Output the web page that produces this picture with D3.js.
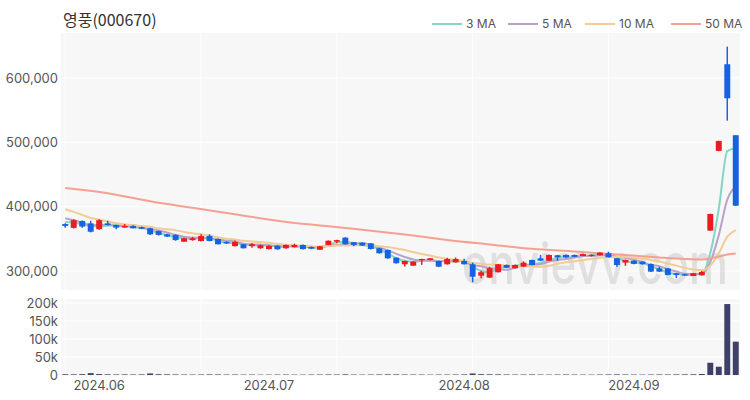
<!DOCTYPE html>
<html>
<head>
<meta charset="utf-8">
<script src="https://cdn.jsdelivr.net/npm/d3@7"></script>
<style>
  body { margin: 0; background: #fff; }
  text { font-family: Inter, "Noto Sans", "Noto Sans CJK KR", sans-serif; }
</style>
</head>
<body>
<script>
// price data, in won (80 trading days)
var opens = [373000,367000,377800,374000,365000,374000,371500,367500,370000,368000,
  366400,362000,357000,356000,345500,348000,346600,354400,349800,345500,
  338600,341500,338600,335300,334000,339400,335300,337000,340400,337300,
  333000,340400,345500,351800,344600,344000,343000,335300,332600,320700,
  310400,308200,316600,317100,315500,310400,313500,315500,310400,292700,
  289600,298000,309300,304200,306700,317100,319700,316000,324400,324900,
  324900,323300,323300,324400,327500,319700,313000,316000,314500,310900,
  304000,304000,296400,295000,292200,293300,362700,486600,621400,511000];
var closes = [370000,379000,369000,361000,379000,371500,367500,370000,366500,365500,
  357000,356000,353500,348000,350800,350800,354400,346600,341500,343000,
  345000,335300,341500,340000,339000,333700,340400,340400,334000,334700,
  338400,347000,348000,341500,340400,339400,334200,327500,319700,312000,
  315500,314500,318600,319700,306700,318600,318600,310400,291100,298000,
  304200,310400,305100,309300,312900,309300,316000,324900,321300,321000,
  322000,326400,325000,328500,321300,309300,317100,311000,310400,299000,
  299000,293800,293800,293000,296400,298400,388600,502200,568500,401500];
var highs = [374000,380500,378500,378000,380500,378000,372000,373000,371000,369000,
  367000,363000,358000,357000,351500,353000,357000,357000,350500,346000,
  347500,342000,343500,341000,340000,340000,341000,342500,341000,338000,
  339000,347500,348500,352500,345000,344500,343500,336000,333000,321000,
  316000,315000,319000,320000,316000,320500,321000,319000,313000,300500,
  306600,311000,310000,310000,315000,317500,325000,325500,325000,325500,
  325500,327000,326000,329000,330000,320000,317500,316500,315000,311500,
  306600,304500,297000,295500,297000,300000,389000,502500,648800,511500];
var lows = [367000,366000,367000,360000,364000,370500,365000,367000,366000,365000,
  356000,355000,353000,347000,345000,347000,346000,346000,341000,342000,
  338000,335000,336000,334500,333500,333000,334500,336500,333500,334000,
  332500,340000,343000,341000,338500,339000,333500,327000,319000,311500,
  307000,308000,309500,316500,306000,310000,313000,310000,282400,288500,
  289000,297500,304500,303500,306000,309000,315500,315500,316000,320500,
  321500,323000,322500,324000,321000,306500,308000,310500,310000,298500,
  298500,293500,289000,292500,292000,293000,362500,486000,533700,401000];
var volumes = [2100,1800,2300,5200,2600,1900,1500,1700,1400,1600,
  4300,2200,1800,1500,1300,1200,1400,1600,1500,1200,
  1300,1100,1200,1000,1100,1200,1300,1100,1000,1200,
  1300,1500,1400,1800,1200,1100,1300,1500,1700,1600,
  1400,1300,1200,1100,1300,1200,1400,1600,4200,2200,
  1900,1700,1400,1200,1300,1500,1200,1100,1300,1400,
  1200,1100,1000,1300,1500,1700,1400,1200,1100,1300,
  1500,1400,1600,1700,1900,2800,34000,23000,197000,92500];
// closes before the window, estimated from where the short averages start
var priorCloses = [420000,415000,410000,405000,400000,395000,387000,382000,376000];
// 50 MA at these candle indices
var ma50Idx = [0,5,10,15,20,27,30,35,40,45,50,55,60,65,70,73,75,76,77,78,79];
var ma50Val = [429100,421000,408400,398300,388200,374600,370800,364200,356800,348200,
  341200,334500,330300,325700,321000,318700,317900,319400,322500,325700,327200];

var tickIdx = [4, 24, 47, 67];
var tickLabels = ["2024.06", "2024.07", "2024.08", "2024.09"];
var gridIdx = [0, 16, 32, 48, 64];
var priceTicks = [300000, 400000, 500000, 600000];
var volTicks = [0, 50000, 100000, 150000, 200000];
var maNames = ["3 MA", "5 MA", "10 MA", "50 MA"];
var maColors = ["#85d5c5", "#b9a3c9", "#f3cb95", "#f5a192"];

window.onload = function() {
    var w = 750, h = 400;
    var left = 61, right = 740;
    var pTop = 33, pBot = 290, vTop = 299, vBot = 376;

    var svg = d3.select("body").append("svg")
        .attr("width", w)
        .attr("height", h);

    var x = d3.scaleBand()
        .domain(d3.range(closes.length))
        .range([left, right])
        .paddingInner(0.3)
        .paddingOuter(0.15);
    var cx = function(i) { return x(i) + x.bandwidth() / 2; };

    var y = d3.scaleLinear().domain([270400, 670000]).range([pBot, pTop]);
    var yv = d3.scaleLinear().domain([0, 211000]).range([375, vTop]);

    // panel backgrounds
    svg.append("rect").attr("x", left).attr("y", pTop)
        .attr("width", right - left).attr("height", pBot - pTop).attr("fill", "#f7f7f7");
    svg.append("rect").attr("x", left).attr("y", vTop)
        .attr("width", right - left).attr("height", vBot - vTop).attr("fill", "#f7f7f7");

    // grid lines
    svg.selectAll(".hgrid").data(priceTicks).enter().append("line")
        .attr("x1", left).attr("x2", right)
        .attr("y1", function(d) { return y(d); }).attr("y2", function(d) { return y(d); })
        .attr("stroke", "#fff").attr("stroke-width", 1);
    svg.selectAll(".vhgrid").data(volTicks.slice(1)).enter().append("line")
        .attr("x1", left).attr("x2", right)
        .attr("y1", function(d) { return yv(d); }).attr("y2", function(d) { return yv(d); })
        .attr("stroke", "#fff").attr("stroke-width", 1);
    [[pTop, pBot], [vTop, vBot]].forEach(function(p) {
        svg.selectAll(null).data(gridIdx).enter().append("line")
            .attr("x1", function(d) { return cx(d); }).attr("x2", function(d) { return cx(d); })
            .attr("y1", p[0]).attr("y2", p[1])
            .attr("stroke", "#fff").attr("stroke-width", 1);
    });

    // watermark
    svg.append("text")
        .attr("x", 462).attr("y", 284)
        .attr("textLength", 266).attr("lengthAdjust", "spacingAndGlyphs")
        .style("font-size", "56px").style("font-weight", 500)
        .attr("fill", "#aaa").attr("opacity", 0.3)
        .text("onvievv.com");

    // moving averages from closes
    var all = priorCloses.concat(closes);
    function movingAvg(n) {
        return closes.map(function(c, i) {
            var j = i + priorCloses.length;
            return d3.mean(all.slice(j - n + 1, j + 1));
        });
    }
    var line = d3.line()
        .x(function(d) { return cx(d[0]); })
        .y(function(d) { return y(d[1]); })
        .curve(d3.curveMonotoneX);
    var maSeries = [3, 5, 10].map(function(n) {
        return movingAvg(n).map(function(v, i) { return [i, v]; });
    });
    maSeries.push(ma50Idx.map(function(k, i) { return [k, ma50Val[i]]; }));
    svg.selectAll(".ma").data(maSeries).enter().append("path")
        .attr("d", line)
        .attr("fill", "none")
        .attr("stroke", function(d, i) { return maColors[i]; })
        .attr("stroke-width", 2);

    // candles
    var idx = d3.range(closes.length);
    var col = function(i) { return closes[i] >= opens[i] ? "#ef1a1f" : "#1563e0"; };
    svg.selectAll(".wick").data(idx).enter().append("line")
        .attr("x1", cx).attr("x2", cx)
        .attr("y1", function(i) { return y(highs[i]); })
        .attr("y2", function(i) { return y(lows[i]); })
        .attr("stroke", col).attr("stroke-width", 1.5);
    svg.selectAll(".body").data(idx).enter().append("rect")
        .attr("x", function(i) { return x(i); })
        .attr("width", x.bandwidth())
        .attr("y", function(i) { return y(Math.max(opens[i], closes[i])); })
        .attr("height", function(i) {
            return Math.max(1, Math.abs(y(opens[i]) - y(closes[i])));
        })
        .attr("fill", col);

    // volume bars
    svg.selectAll(".vol").data(idx).enter().append("rect")
        .attr("x", function(i) { return x(i); })
        .attr("width", x.bandwidth())
        .attr("y", function(i) { return yv(volumes[i]); })
        .attr("height", function(i) { return yv(0) - yv(volumes[i]); })
        .attr("fill", "#3f4068");

    // y axes
    var fmt = d3.format(",");
    var yAxis = d3.axisLeft(y).tickValues(priceTicks).tickSize(0).tickPadding(3)
        .tickFormat(fmt);
    var gy = svg.append("g").attr("transform", "translate(" + left + ",0)").call(yAxis);
    gy.select(".domain").remove();
    gy.selectAll("text").style("font-size", "13px").attr("fill", "#555");

    var vAxis = d3.axisLeft(yv).tickValues(volTicks).tickSize(0).tickPadding(3)
        .tickFormat(function(d) { return d === 0 ? "0" : (d / 1000) + "k"; });
    var gv = svg.append("g").attr("transform", "translate(" + left + ",0)").call(vAxis);
    gv.select(".domain").remove();
    gv.selectAll("text").style("font-size", "13px").attr("fill", "#555");

    // x axis labels
    var xAxis = d3.axisBottom(x).tickValues(tickIdx).tickSize(0).tickPadding(5)
        .tickFormat(function(d, i) { return tickLabels[i]; });
    var gx = svg.append("g").attr("transform", "translate(0," + vBot + ")").call(xAxis);
    gx.select(".domain").remove();
    gx.selectAll("text").style("font-size", "13px").attr("fill", "#555");

    // title
    svg.append("text")
        .attr("x", 63).attr("y", 26)
        .style("font-size", "16px")
        .style("font-family", "'Noto Sans CJK KR', sans-serif")
        .attr("fill", "#333")
        .text("영풍(000670)");

    // legend
    var legX = [432, 508, 585, 671];
    var leg = svg.selectAll(".leg").data(maNames).enter().append("g")
        .attr("transform", function(d, i) { return "translate(" + legX[i] + ",24)"; });
    leg.append("line").attr("x1", 0).attr("x2", 30)
        .attr("stroke", function(d, i) { return maColors[i]; }).attr("stroke-width", 2);
    leg.append("text").attr("x", 34).attr("dy", "0.35em")
        .style("font-size", "12px").attr("fill", "#555")
        .text(function(d) { return d; });
};
</script>
</body>
</html>
